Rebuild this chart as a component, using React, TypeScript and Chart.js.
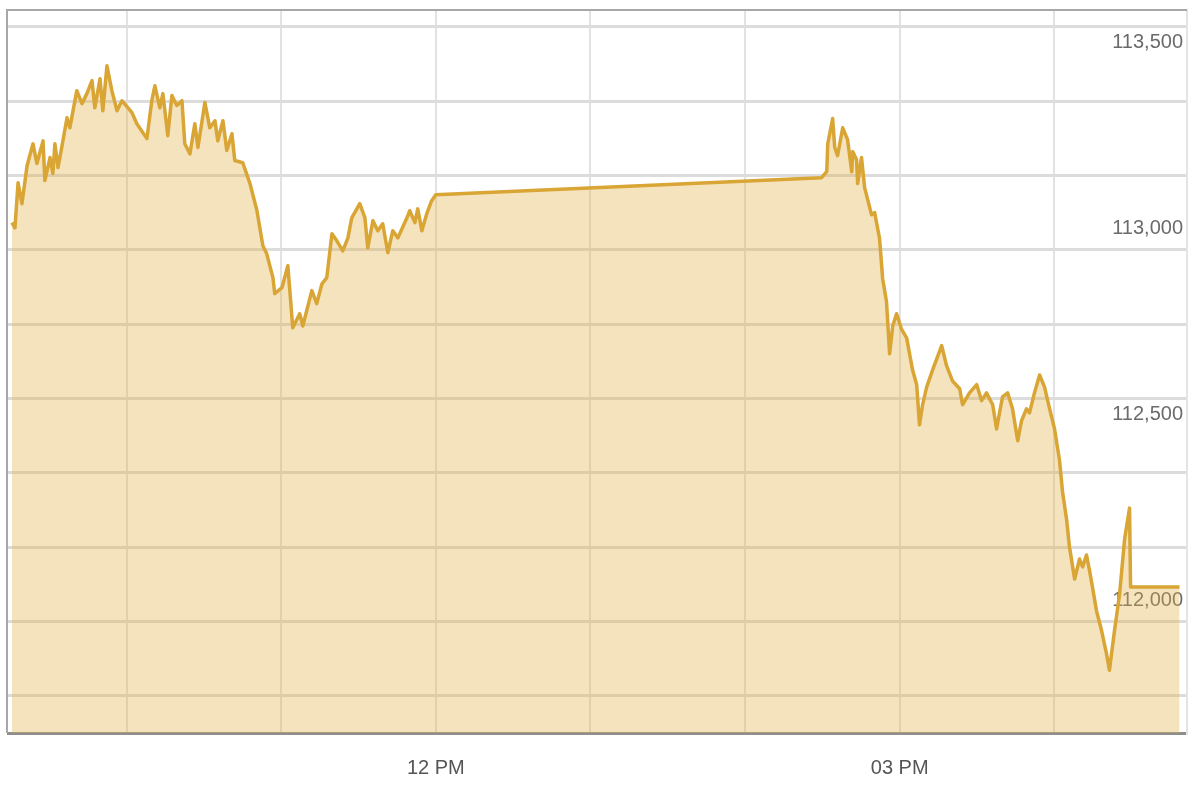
import Chart from "chart.js/auto";
import { useEffect, useRef } from "react";

// minutes since midnight
const times = [
  555.5, 556.7, 557.9, 559.4, 561.4, 563.7, 565.2, 567.6, 568.3, 570.3,
  571.4, 572.2, 573.4, 575.3, 576.9, 578.0, 580.7, 582.7, 584.6, 586.6,
  587.7, 589.7, 590.8, 592.4, 594.3, 596.3, 598.2, 602.1, 604.0, 607.9,
  609.8, 611.0, 612.9, 614.1, 616.0, 617.6, 619.5, 621.5, 622.6, 624.6,
  626.5, 627.7, 630.4, 632.3, 634.3, 635.4, 637.4, 638.9, 640.9, 642.0,
  645.1, 647.9, 650.6, 652.9, 654.4, 656.8, 657.5, 660.3, 662.6, 664.5,
  667.2, 668.4, 671.9, 673.8, 675.8, 677.7, 679.7, 681.6, 683.9, 685.9,
  687.4, 690.5, 692.5, 693.6, 695.6, 697.5, 699.4, 701.4, 703.3, 705.3,
  708.8, 709.9, 711.9, 713.0, 714.6, 716.5, 718.4, 720.0,
  869.7, 871.7, 872.1, 874.0, 874.8, 875.9, 877.9, 879.8, 881.4, 881.8,
  883.3, 883.7, 885.2, 886.4, 887.6, 889.1, 890.3, 892.2, 893.4, 894.9,
  896.1, 897.3, 898.8, 900.8, 902.7, 905.0, 906.6, 907.7, 908.9, 910.5,
  912.8, 916.3, 918.2, 920.5, 923.3, 924.4, 927.1, 929.9, 931.8, 933.7,
  936.1, 937.6, 939.9, 941.9, 943.8, 945.8, 947.3, 949.2, 950.4, 952.3,
  954.3, 956.2, 958.2, 960.1, 962.0, 963.2, 964.8, 965.9, 967.9, 969.8,
  971.0, 972.5, 973.7, 974.8, 976.4, 978.3, 980.3, 981.4, 983.4, 985.3,
  987.3, 989.2, 989.6, 1008.6,
];

// index level
const values = [
  113073, 113059, 113180, 113124, 113226, 113285, 113232, 113293, 113186, 113248,
  113205, 113285, 113221, 113293, 113355, 113328, 113428, 113393, 113420, 113455,
  113382, 113460, 113374, 113495, 113428, 113374, 113401, 113369, 113339, 113299,
  113401, 113441, 113382, 113420, 113307, 113415, 113388, 113401, 113285, 113258,
  113339, 113275, 113396, 113328, 113347, 113293, 113347, 113267, 113312, 113240,
  113234, 113178, 113105, 113011, 112989, 112925, 112882, 112898, 112957, 112790,
  112828, 112795, 112890, 112855, 112908, 112925, 113043, 113024, 112997, 113032,
  113086, 113124, 113086, 113005, 113078, 113051, 113070, 112992, 113051, 113032,
  113086, 113105, 113073, 113110, 113051, 113097, 113132, 113148,
  113194, 113210, 113285, 113353, 113275, 113253, 113328, 113296, 113210, 113264,
  113242, 113178, 113248, 113167, 113135, 113094, 113100, 113030, 112922, 112860,
  112720, 112795, 112828, 112785, 112763, 112677, 112637, 112529, 112583, 112631,
  112677, 112742, 112688, 112647, 112626, 112583, 112615, 112637, 112594, 112615,
  112583, 112518, 112604, 112615, 112572, 112486, 112540, 112572, 112561, 112615,
  112663, 112631, 112572, 112518, 112435, 112349, 112273, 112200, 112114, 112168,
  112147, 112179, 112136, 112093, 112028, 111977, 111912, 111869, 111977, 112071,
  112222, 112305, 112093, 112093,
];

const xTickLabels: Record<number, string> = { 720: "12 PM", 900: "03 PM" };
const yLabelValues = [112000, 112500, 113000, 113500];

const labelFont = { family: '"Liberation Sans", Arial, sans-serif', size: 20 };

const frame = {
  id: "frame",
  afterDraw(chart: Chart) {
    const { ctx, chartArea } = chart;
    ctx.save();
    ctx.strokeStyle = "#a8a8a8";
    ctx.lineWidth = 2;
    ctx.beginPath();
    ctx.moveTo(chartArea.left - 1, chartArea.bottom);
    ctx.lineTo(chartArea.left - 1, chartArea.top);
    ctx.lineTo(chartArea.right, chartArea.top);
    ctx.stroke();
    ctx.restore();
  },
};

export default function App() {
  const canvasRef = useRef<HTMLCanvasElement | null>(null);

  useEffect(() => {
    const canvas = canvasRef.current;
    if (!canvas) return;

    const chart = new Chart(canvas, {
      type: "line",
      data: {
        datasets: [
          {
            data: times.map((t, i) => ({ x: t, y: values[i] })),
            borderColor: "#d9a534",
            borderWidth: 3.5,
            borderJoinStyle: "round",
            backgroundColor: "rgba(225,175,70,0.35)",
            fill: "start",
            tension: 0,
            pointRadius: 0,
          },
        ],
      },
      options: {
        animation: false,
        responsive: true,
        maintainAspectRatio: false,
        layout: { padding: { left: 8, top: 10, right: 5, bottom: 0 } },
        plugins: {
          legend: { display: false },
          tooltip: { enabled: false },
        },
        scales: {
          x: {
            type: "linear",
            min: 554,
            max: 1011.5,
            afterFit: (s) => {
              s.paddingLeft = 0;
              s.paddingRight = 0;
              s.height = 67;
            },
            grid: {
              drawTicks: false,
              lineWidth: 2,
              color: (c) => (c.tick && c.tick.value % 60 === 0 ? "#e2e2e2" : "rgba(0,0,0,0)"),
            },
            border: { color: "#8f8f8f", width: 3 },
            ticks: {
              stepSize: 60,
              autoSkip: false,
              maxRotation: 0,
              padding: 23,
              color: "#555",
              font: labelFont,
              callback: (v) => xTickLabels[Number(v)] ?? "",
            },
          },
          y: {
            position: "right",
            min: 111700,
            max: 113645,
            afterFit: (s) => {
              s.paddingTop = 0;
              s.paddingBottom = 0;
              s.width = 8;
            },
            grid: {
              drawTicks: false,
              lineWidth: 3,
              color: (c) => (c.tick && c.tick.value % 200 === 0 ? "#dcdcdc" : "rgba(0,0,0,0)"),
            },
            border: { color: "#e4e4e4", width: 2 },
            ticks: {
              stepSize: 100,
              includeBounds: false,
              mirror: true,
              padding: -4,
              labelOffset: -21,
              color: "#6b6b6b",
              font: labelFont,
              callback: (v) =>
                yLabelValues.includes(Number(v)) ? Number(v).toLocaleString("en-US") : "",
            },
          },
        },
      },
      plugins: [frame],
    });

    return () => {
      chart.destroy();
    };
  }, []);

  return (
    <div style={{ position: "fixed", left: 0, top: 0, width: 1200, height: 800, background: "#fff" }}>
      <canvas ref={canvasRef} />
    </div>
  );
}
